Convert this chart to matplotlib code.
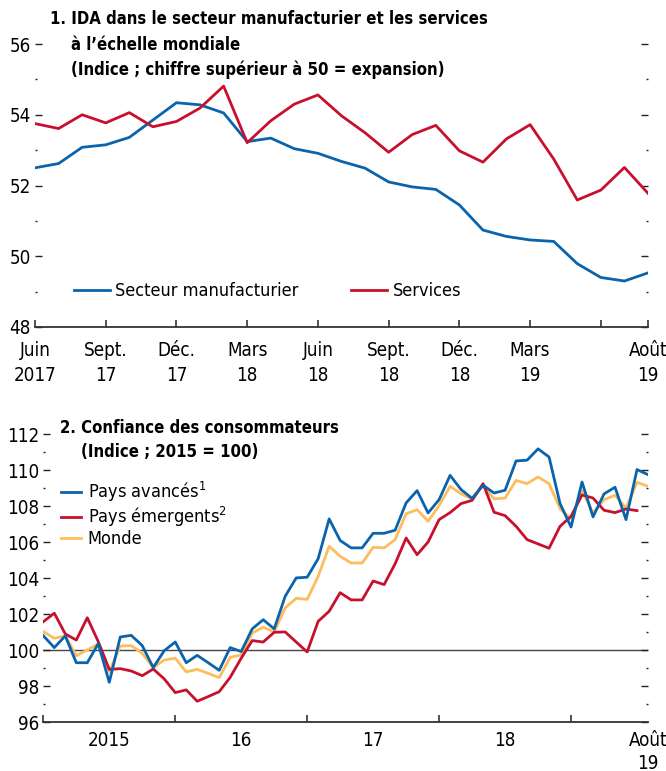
import matplotlib
matplotlib.use("Agg")
import matplotlib.pyplot as plt
from matplotlib.ticker import FixedLocator

plt.rcParams['font.family'] = ['DejaVu Sans']
plt.rcParams['font.stretch'] = 'condensed'
plt.rcParams['mathtext.default'] = 'regular'

BLUE = "#0a64ad"
RED = "#c8102e"
YELLOW = "#fdbd5c"

# panneau 1 : juin 2017 - août 2019
ida_manuf = [52.50, 52.62, 53.08, 53.15, 53.36, 53.85, 54.34, 54.28, 54.05, 53.24,
             53.34, 53.04, 52.91, 52.68, 52.49, 52.10, 51.96, 51.89, 51.45, 50.74,
             50.56, 50.46, 50.42, 49.79, 49.40, 49.30, 49.53]
ida_services = [53.75, 53.61, 54.00, 53.77, 54.06, 53.66, 53.81, 54.19, 54.81, 53.21,
                53.83, 54.30, 54.56, 53.97, 53.49, 52.94, 53.44, 53.70, 52.98, 52.66,
                53.32, 53.72, 52.75, 51.59, 51.87, 52.51, 51.78]
top_ticks = [0, 3, 6, 9, 12, 15, 18, 21, 24, 26]
top_labels = ["Juin\n2017", "Sept.\n17", "Déc.\n17", "Mars\n18", "Juin\n18",
              "Sept.\n18", "Déc.\n18", "Mars\n19", "", "Août\n19"]

# panneau 2 : janvier 2015 - août 2019
avances = [100.81, 100.15, 100.80, 99.31, 99.31, 100.37, 98.22, 100.74, 100.83, 100.26, 99.04, 99.98,
           100.46, 99.31, 99.72, 99.31, 98.89, 100.15, 99.93, 101.19, 101.70, 101.19, 103.00, 104.02,
           104.06, 105.09, 107.30, 106.10, 105.69, 105.69, 106.50, 106.50, 106.67, 108.19, 108.87, 107.63,
           108.37, 109.72, 108.93, 108.44, 109.17, 108.74, 108.89, 110.52, 110.56, 111.19, 110.74, 108.15,
           106.85, 109.35, 107.41, 108.69, 109.06, 107.26, 110.04, 109.76]
emergents = [101.59, 102.06, 100.91, 100.57, 101.81, 100.48, 98.94, 98.98, 98.85, 98.59, 98.96, 98.41,
             97.65, 97.80, 97.17, 97.43, 97.70, 98.50, 99.56, 100.54, 100.46, 101.00, 101.02, 100.46,
             99.91, 101.61, 102.17, 103.20, 102.80, 102.80, 103.85, 103.65, 104.81, 106.24, 105.31, 106.02,
             107.26, 107.65, 108.15, 108.33, 109.26, 107.67, 107.48, 106.89, 106.15, 105.91, 105.67, 106.89,
             107.44, 108.63, 108.46, 107.78, 107.65, 107.85, 107.76]
monde = [101.04, 100.67, 100.80, 99.70, 100.02, 100.35, 98.81, 100.24, 100.26, 99.83, 99.04, 99.46,
         99.56, 98.80, 98.94, 98.72, 98.48, 99.61, 99.74, 100.96, 101.28, 101.02, 102.35, 102.89,
         102.83, 104.11, 105.78, 105.22, 104.85, 104.85, 105.72, 105.69, 106.15, 107.59, 107.81, 107.17,
         108.04, 109.11, 108.69, 108.41, 109.15, 108.41, 108.46, 109.44, 109.26, 109.63, 109.26, 107.87,
         107.30, 108.87, 107.63, 108.37, 108.61, 107.90, 109.33, 109.11]
bot_ticks = [0, 12, 24, 36, 48]
bot_label_pos = [6, 18, 30, 42, 55]
bot_labels = ["2015", "16", "17", "18", "Août\n19"]

W, H = 666, 771
fig = plt.figure(figsize=(W / 100, H / 100), dpi=100)


def style_axes(ax, ymin, ymax):
    for s in ["top", "left", "right"]:
        ax.spines[s].set_visible(False)
    ax.spines["bottom"].set_color("#333333")
    ax.spines["bottom"].set_linewidth(1.3)
    ax.set_ylim(ymin, ymax)
    ax.yaxis.set_major_locator(FixedLocator(range(ymin, ymax + 1, 2)))
    ax.yaxis.set_minor_locator(FixedLocator(range(ymin + 1, ymax, 2)))
    ax.tick_params(axis="y", which="major", direction="in", length=5, width=1,
                   left=True, right=True, labelsize=13.5, pad=3, color="#222222")
    ax.tick_params(axis="y", which="minor", direction="in", length=1.5, width=1,
                   left=True, right=True, color="#222222")
    ax.tick_params(axis="x", which="major", direction="in", length=5, width=1.2,
                   labelsize=13.5, color="#333333")


# ---- panneau 1
ax1 = fig.add_axes([35 / W, 1 - 327 / H, 613 / W, 283 / H])
x1 = list(range(len(ida_manuf)))
ax1.plot(x1, ida_manuf, color=BLUE, lw=2, label="Secteur manufacturier")
ax1.plot(x1, ida_services, color=RED, lw=2, label="Services")
ax1.set_xlim(0, 26)
style_axes(ax1, 48, 56)
ax1.set_xticks(top_ticks)
ax1.set_xticklabels(top_labels, linespacing=1.4)
ax1.tick_params(axis="x", pad=10)
ax1.legend(loc="center left", bbox_to_anchor=(0.063, 0.127), frameon=False, ncol=2,
           fontsize=13, handlelength=2.0, handletextpad=0.3, columnspacing=2.9,
           borderpad=0, borderaxespad=0)

fig.text(50 / W, 1 - 19 / H, "1. IDA dans le secteur manufacturier et les services",
         fontsize=12, fontweight="bold", va="center")
fig.text(71 / W, 1 - 45 / H, "à l’échelle mondiale",
         fontsize=12, fontweight="bold", va="center")
fig.text(71 / W, 1 - 70 / H, "(Indice ; chiffre supérieur à 50 = expansion)",
         fontsize=12, fontweight="bold", va="center")

# ---- panneau 2
ax2 = fig.add_axes([43.3 / W, 1 - 722.3 / H, 604.7 / W, 288 / H])
ax2.axhline(100, color="#444444", lw=1, zorder=1)
ax2.plot(range(len(monde)), monde, color=YELLOW, lw=2, label="Monde", zorder=2)
ax2.plot(range(len(emergents)), emergents, color=RED, lw=2,
         label="Pays émergents$^{2}$", zorder=3)
ax2.plot(range(len(avances)), avances, color=BLUE, lw=2,
         label="Pays avancés$^{1}$", zorder=4)
ax2.set_xlim(0, 55)
style_axes(ax2, 96, 112)
ax2.set_xticks(bot_ticks)
ax2.set_xticklabels([])
ax2.xaxis.set_minor_locator(FixedLocator(bot_label_pos))
ax2.set_xticklabels(bot_labels, minor=True, linespacing=1.3)
ax2.tick_params(axis="x", which="minor", length=0, labelsize=13.5, pad=6)
handles, labels = ax2.get_legend_handles_labels()
order = [2, 1, 0]
ax2.legend([handles[i] for i in order], [labels[i] for i in order],
           loc="center left", bbox_to_anchor=(0.03, 0.723), frameon=False,
           fontsize=13, handlelength=1.1, handletextpad=0.35, labelspacing=0.05,
           borderpad=0, borderaxespad=0)

fig.text(60 / W, 1 - 428 / H, "2. Confiance des consommateurs",
         fontsize=12, fontweight="bold", va="center")
fig.text(81 / W, 1 - 452 / H, "(Indice ; 2015 = 100)",
         fontsize=12, fontweight="bold", va="center")

fig.savefig("out.png", dpi=100)
